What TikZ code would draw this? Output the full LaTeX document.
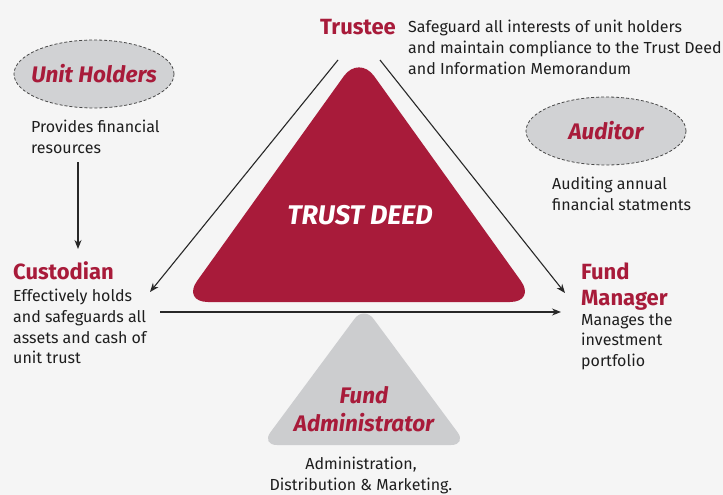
\documentclass[tikz,border=0pt]{standalone}
\usepackage{fontspec}
\setmainfont{Fira Sans}
\usetikzlibrary{arrows.meta,shapes.geometric}
\definecolor{deedred}{RGB}{168,27,58}
\definecolor{bgc}{RGB}{245,245,245}
\definecolor{ellgrey}{RGB}{209,210,212}
\definecolor{trigrey}{RGB}{204,205,207}
\definecolor{linec}{RGB}{40,40,40}
\definecolor{txt}{RGB}{30,30,30}
\begin{document}
\begin{tikzpicture}[x=1pt,y=-1pt,
  title/.style={font=\fontsize{22}{22}\selectfont\bfseries, text=deedred, inner sep=0pt},
  ititle/.style={font=\fontsize{22.5}{22.5}\selectfont\bfseries\itshape, text=deedred, inner sep=0pt},
  desc/.style={font=\fontsize{16}{20.7}\selectfont, text=txt, align=left, inner sep=0pt},
  cloud/.style={ellipse, draw=linec!85, dash pattern=on 3pt off 2pt, fill=ellgrey, minimum width=160pt, minimum height=68pt, line width=0.8pt, inner sep=0pt},
  conn/.style={draw=linec, line width=1.1pt, -{Stealth[length=9pt,width=7pt]}}]
\fill[bgc] (0,0) rectangle (723,495);
\useasboundingbox (0,0) rectangle (723,495);

% triangles
\fill[deedred, rounded corners=26pt] (359,55) -- (536,302) -- (182,302) -- cycle;
\fill[trigrey, rounded corners=16pt] (364,306) -- (467,445) -- (261,445) -- cycle;

\node[font=\fontsize{27}{27}\selectfont\bfseries\itshape, text=white, inner sep=0pt] (deed) at (360,215) {TRUST DEED};

% Trustee
\node[title, anchor=base west] (trustee) at (320,35) {Trustee};
\node[desc, anchor=north west] (trusteed) at (408,20) {Safeguard all interests of unit holders\\and maintain compliance to the Trust Deed\\and Information Memorandum};

% Unit holders
\node[cloud] (uh) at (94,74) {};
\node[ititle] (uht) at (94,74) {Unit Holders};
\node[desc, anchor=north west] (uhd) at (31,120) {Provides financial\\resources};

% Auditor
\node[cloud] (aud) at (606,131) {};
\node[ititle] (audt) at (606,131) {Auditor};
\node[desc, anchor=north west] (audd) at (552,177) {Auditing annual\\financial statments};

% Custodian
\node[title, anchor=base west] (cust) at (13,279) {Custodian};
\node[desc, anchor=north west] (custd) at (13,289) {Effectively holds\\and safeguards all\\assets and cash of\\unit trust};

% Fund Manager
\node[title, anchor=base west] (fm1) at (581,279) {Fund};
\node[title, anchor=base west] (fm2) at (581,305) {Manager};
\node[desc, anchor=north west] (fmd) at (581,313) {Manages the\\investment\\portfolio};

% Fund Administrator
\node[ititle, anchor=base] (fa1) at (364,403) {Fund};
\node[ititle, anchor=base] (fa2) at (364,431) {Administrator};
\node[desc, align=center, anchor=north] (fad) at (361,457) {Administration,\\Distribution \& Marketing.};

% connectors
\coordinate (t1) at (338,60);
\coordinate (t2) at (380,60);
\coordinate (custarr) at (150,292);
\coordinate (fmarr) at (565,293);
\coordinate (h1) at (160,312);
\coordinate (h2) at (561,312);
\coordinate (v1) at (78,162);
\coordinate (v2) at (78,249);
\draw[conn] (t1) -- (custarr);
\draw[conn] (t2) -- (fmarr);
\draw[conn] (h1) -- (h2);
\draw[conn] (v1) -- (v2);
\end{tikzpicture}
\end{document}
